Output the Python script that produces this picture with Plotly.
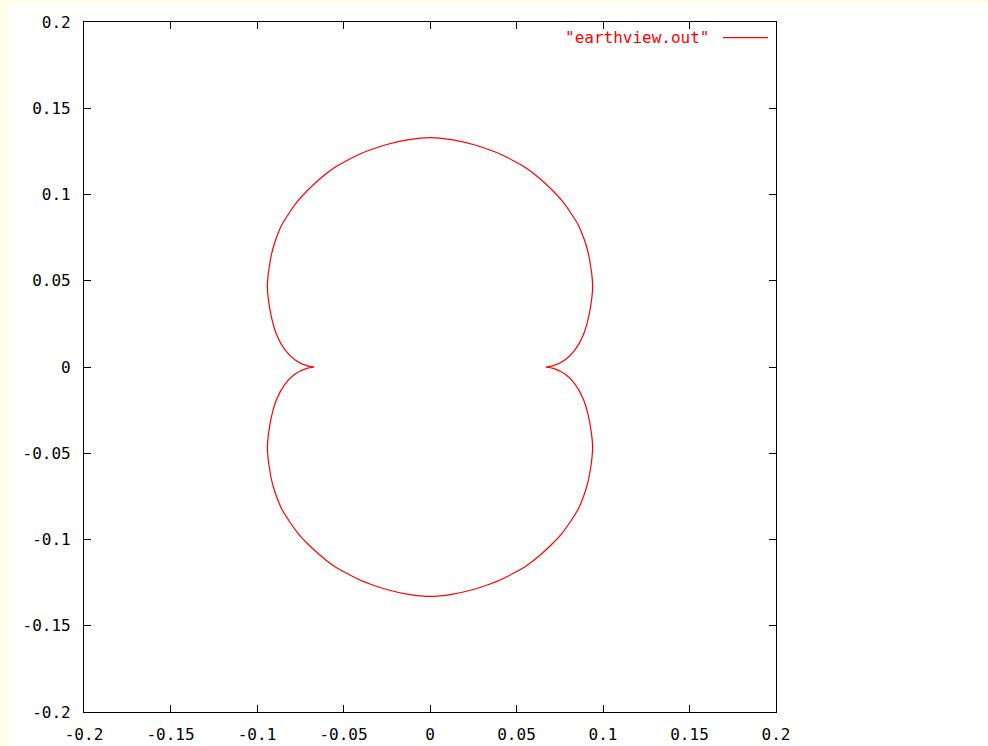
import plotly.graph_objects as go

# curve
# upper half: right cusp -> top -> left cusp
x_upper = [0.0670, 0.0713, 0.0780, 0.0838, 0.0886, 0.0915, 0.0935, 0.0940, 0.0936, 0.0929, 0.0915, 0.0896,
           0.0857, 0.0809, 0.0763, 0.0710, 0.0655, 0.0597, 0.0549, 0.0482, 0.0405, 0.0347, 0.0250,
           0.0125, 0.0,
           -0.0125, -0.0250, -0.0347, -0.0405, -0.0482, -0.0549, -0.0597, -0.0655, -0.0710, -0.0763,
           -0.0809, -0.0857, -0.0896, -0.0915, -0.0929, -0.0936, -0.0940, -0.0935, -0.0915, -0.0886, -0.0838,
           -0.0780, -0.0713, -0.0670]
y_upper = [0.0, 0.0008, 0.0041, 0.0099, 0.0186, 0.0282, 0.0398, 0.0470, 0.0530, 0.0581, 0.0659, 0.0726,
           0.0823, 0.0900, 0.0964, 0.1022, 0.1074, 0.1123, 0.1158, 0.1196, 0.1235, 0.1258, 0.1290,
           0.1318, 0.1330,
           0.1318, 0.1290, 0.1258, 0.1235, 0.1196, 0.1158, 0.1123, 0.1074, 0.1022, 0.0964,
           0.0900, 0.0823, 0.0726, 0.0659, 0.0581, 0.0530, 0.0470, 0.0398, 0.0282, 0.0186, 0.0099,
           0.0041, 0.0008, 0.0]
# lower half: left cusp -> bottom -> right cusp
x_lower = [-0.0670, -0.0713, -0.0780, -0.0838, -0.0886, -0.0915, -0.0935, -0.0940, -0.0936, -0.0929, -0.0915,
           -0.0896, -0.0857, -0.0809, -0.0763, -0.0710, -0.0655, -0.0597, -0.0549, -0.0482, -0.0405, -0.0347,
           -0.0250, -0.0125, 0.0,
           0.0125, 0.0250, 0.0347, 0.0405, 0.0482, 0.0549, 0.0597, 0.0655, 0.0710, 0.0763,
           0.0809, 0.0857, 0.0896, 0.0915, 0.0929, 0.0936, 0.0940, 0.0935, 0.0915, 0.0886, 0.0838,
           0.0780, 0.0713, 0.0670]
y_lower = [0.0, -0.0008, -0.0041, -0.0099, -0.0186, -0.0282, -0.0398, -0.0470, -0.0530, -0.0581, -0.0659,
           -0.0726, -0.0823, -0.0900, -0.0964, -0.1022, -0.1074, -0.1123, -0.1158, -0.1196, -0.1235, -0.1258,
           -0.1290, -0.1318, -0.1330,
           -0.1318, -0.1290, -0.1258, -0.1235, -0.1196, -0.1158, -0.1123, -0.1074, -0.1022, -0.0964,
           -0.0900, -0.0823, -0.0726, -0.0659, -0.0581, -0.0530, -0.0470, -0.0398, -0.0282, -0.0186, -0.0099,
           -0.0041, -0.0008, 0.0]

tick_vals = [-0.2, -0.15, -0.1, -0.05, 0, 0.05, 0.1, 0.15, 0.2]
tick_text = ["-0.2", "-0.15", "-0.1", "-0.05", "0", "0.05", "0.1", "0.15", "0.2"]
series_name = '"earthview.out"'

FONT = "DejaVu Sans Mono"
RED = "#ff0000"

fig = go.Figure()
for xs, ys in ((x_upper, y_upper), (x_lower, y_lower)):
    fig.add_trace(go.Scatter(x=xs, y=ys, mode="lines",
                             line=dict(color=RED, width=1.2, shape="spline", smoothing=0.8),
                             name=series_name, showlegend=False))

axis_common = dict(
    tickmode="array", tickvals=tick_vals, ticktext=tick_text,
    ticks="inside", ticklen=7, tickwidth=1, tickcolor="black",
    showline=True, linecolor="black", linewidth=1.2, mirror="ticks",
    showgrid=False, zeroline=False, automargin=False,
    tickfont=dict(family=FONT, size=16, color="black"),
)

fig.update_layout(
    width=988, height=746,
    margin=dict(l=84, r=212, t=22, b=34, autoexpand=False),
    paper_bgcolor="#fefee9",
    plot_bgcolor="white",
    xaxis=dict(range=[-0.2, 0.2], ticklabelstandoff=8, **axis_common),
    yaxis=dict(range=[-0.2, 0.2], ticklabelstandoff=9, **axis_common),
    showlegend=False,
)

# white canvas like the original image region
fig.add_shape(type="rect", xref="paper", yref="paper", x0=-0.109, x1=1.4, y0=-0.2, y1=1.0275,
              fillcolor="white", line=dict(width=0), layer="below")

# gnuplot-style key: text then line sample
fig.add_annotation(xref="paper", yref="paper", x=0.9075, y=0.9775, xanchor="right", yanchor="middle",
                   text=series_name, showarrow=False,
                   font=dict(family=FONT, size=16, color=RED))
fig.add_shape(type="line", xref="paper", yref="paper", x0=0.9235, x1=0.9885, y0=0.9775, y1=0.9775,
              line=dict(color=RED, width=1.2))

fig.write_html("out.html", config={"displayModeBar": False},
               post_script="document.body.style.margin='0';document.body.style.padding='0';document.body.style.overflow='hidden';")
